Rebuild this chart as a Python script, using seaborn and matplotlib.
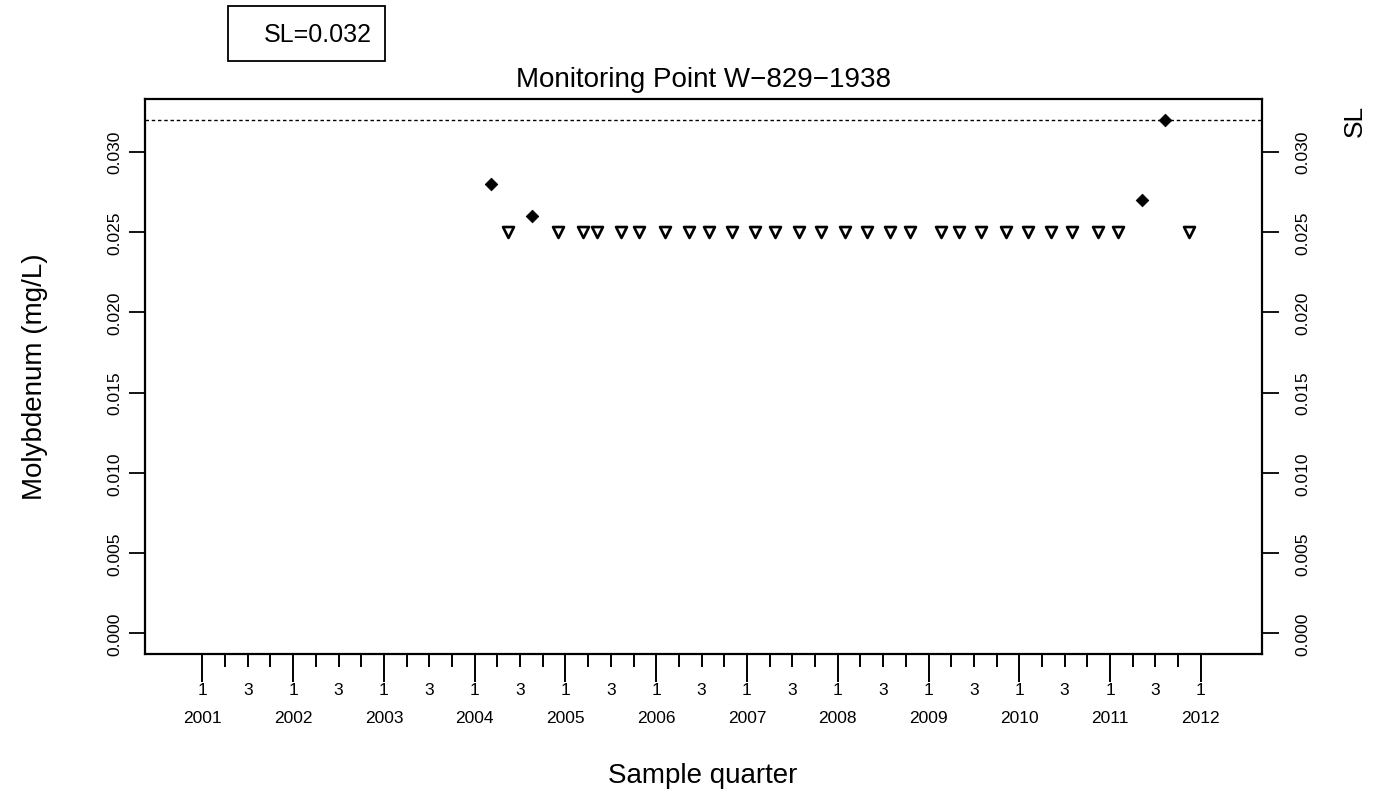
import matplotlib
matplotlib.use("Agg")
import matplotlib.pyplot as plt
import seaborn as sns
import pandas as pd
from matplotlib.patches import Rectangle
from matplotlib.transforms import blended_transform_factory

# ---------------- data ----------------
title = "Monitoring Point W\u2212829\u22121938"
sl_value = 0.032

det_dates = [2004.175, 2004.637, 2011.350, 2011.600]
det_values = [0.028, 0.026, 0.027, 0.032]

nd_dates = [2004.362, 2004.919, 2005.194, 2005.349, 2005.610, 2005.811,
            2006.102, 2006.358, 2006.582, 2006.832, 2007.085, 2007.306,
            2007.570, 2007.812, 2008.076, 2008.326, 2008.580, 2008.800,
            2009.141, 2009.335, 2009.582, 2009.849, 2010.095, 2010.352,
            2010.584, 2010.866, 2011.086, 2011.875]
nd_values = [0.025, 0.025, 0.025, 0.025, 0.025, 0.025,
             0.025, 0.025, 0.025, 0.025, 0.025, 0.025,
             0.025, 0.025, 0.025, 0.025, 0.025, 0.025,
             0.025, 0.025, 0.025, 0.025, 0.025, 0.025,
             0.025, 0.025, 0.025, 0.025]

years = [2001, 2002, 2003, 2004, 2005, 2006, 2007, 2008, 2009, 2010, 2011, 2012]
y_ticks = [0.000, 0.005, 0.010, 0.015, 0.020, 0.025, 0.030]
y_tick_labels = ["0.000", "0.005", "0.010", "0.015", "0.020", "0.025", "0.030"]

# ---------------- style ----------------
sns.set_style("ticks")
plt.rcParams["font.family"] = ["Liberation Sans", "DejaVu Sans"]
plt.rcParams["text.color"] = "black"
plt.rcParams["axes.labelcolor"] = "black"
plt.rcParams["xtick.color"] = "black"
plt.rcParams["ytick.color"] = "black"
plt.rcParams["axes.edgecolor"] = "black"

W, H = 1387, 803
TICK_FS = 12.5
fig = plt.figure(figsize=(W / 100, H / 100), dpi=100)
fig.patch.set_facecolor("white")

L, R, T, B = 145, 1262, 100, 655
ax = fig.add_axes([L / W, 1 - B / H, (R - L) / W, (B - T) / H])

det_df = pd.DataFrame({"date": det_dates, "value": det_values})
nd_df = pd.DataFrame({"date": nd_dates, "value": nd_values})

ax.axhline(sl_value, color="black", lw=1.0, ls=(0, (2.5, 2)), zorder=1)

sns.scatterplot(data=nd_df, x="date", y="value", ax=ax, marker="v", s=62,
                color="white", edgecolor="black", linewidth=1.9, zorder=3)
sns.scatterplot(data=det_df, x="date", y="value", ax=ax, marker="D", s=42,
                color="black", edgecolor="black", linewidth=0.5, zorder=4)

ax.set_xlim(2000.368, 2012.674)
ax.set_ylim(-0.00128, 0.03328)
ax.set_xlabel("")
ax.set_ylabel("")

for sp in ax.spines.values():
    sp.set_visible(True)
    sp.set_linewidth(1.6)
    sp.set_color("black")

# y axis (left)
ax.set_yticks(y_ticks)
ax.set_yticklabels(y_tick_labels, rotation=90, va="center", fontsize=TICK_FS)
ax.tick_params(axis="y", direction="out", length=11.5, width=1.3, pad=5, colors="black")

# right axis
ax2 = ax.twinx()
ax2.set_ylim(ax.get_ylim())
ax2.set_yticks(y_ticks)
ax2.set_yticklabels(y_tick_labels, rotation=90, va="center", fontsize=TICK_FS)
ax2.tick_params(axis="y", direction="out", length=12, width=1.3, pad=12, colors="black")
for sp in ax2.spines.values():
    sp.set_visible(False)
ax2.set_ylabel("")

# x axis
quarters = []
for yr in years:
    for q in range(4):
        if yr == years[-1] and q > 0:
            break
        quarters.append(yr + q / 4)
minor_q = [v for v in quarters if v not in years]
ax.set_xticks(years)
ax.set_xticks(minor_q, minor=True)
ax.set_xticklabels([])
ax.tick_params(axis="x", which="major", direction="out", length=20, width=1.4, colors="black")
ax.tick_params(axis="x", which="minor", direction="out", length=9, width=1.4, colors="black")

tr = blended_transform_factory(ax.transData, fig.transFigure)
for yr in years:
    fig.text(yr, 1 - 691 / H, "1", transform=tr, ha="center", va="center", fontsize=TICK_FS)
    fig.text(yr, 1 - 719 / H, str(yr), transform=tr, ha="center", va="center", fontsize=TICK_FS)
    if yr != years[-1]:
        fig.text(yr + 0.5, 1 - 691 / H, "3", transform=tr, ha="center", va="center", fontsize=TICK_FS)

# labels / title
ax.set_title(title, fontsize=20, pad=9, color="black")
fig.text(35 / W, 1 - 377 / H, "Molybdenum (mg/L)", rotation=90, ha="center",
         va="center", fontsize=20)
fig.text(703 / W, 1 - 776 / H, "Sample quarter", ha="center", va="center", fontsize=20)

trr = blended_transform_factory(fig.transFigure, ax.transData)
fig.text(1355 / W, sl_value, "SL", transform=trr, rotation=90, ha="center",
         va="center", fontsize=19)

# SL box
fig.patches.append(Rectangle((228 / W, 1 - 62 / H), 157 / W, 55 / H,
                             transform=fig.transFigure, fill=False,
                             ec="black", lw=1.3))
fig.text(372 / W, 1 - 35 / H, "SL=%.3f" % sl_value, ha="right", va="center",
         fontsize=18)

fig.savefig("out.png", dpi=100, facecolor="white")
